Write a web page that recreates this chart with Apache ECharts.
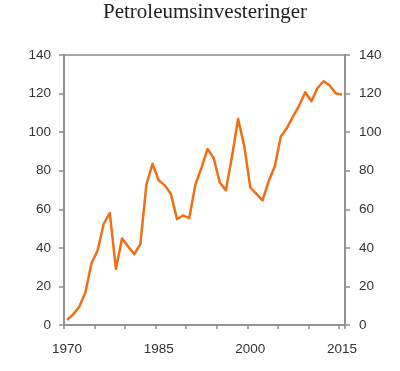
<!DOCTYPE html>
<html>
<head>
<meta charset="utf-8">
<style>
  html, body { margin: 0; padding: 0; background: #ffffff; }
  #chart { width: 400px; height: 371px; }
</style>
<script src="https://cdn.jsdelivr.net/npm/echarts@6/dist/echarts.min.js"></script>
</head>
<body>
<div id="chart"></div>
<script>
const titleText = 'Petroleumsinvesteringer';
const years = [
  '1970','1971','1972','1973','1974','1975','1976','1977','1978','1979',
  '1980','1981','1982','1983','1984','1985','1986','1987','1988','1989',
  '1990','1991','1992','1993','1994','1995','1996','1997','1998','1999',
  '2000','2001','2002','2003','2004','2005','2006','2007','2008','2009',
  '2010','2011','2012','2013','2014','2015'
];
const investments = [
  2.6, 5.5, 9.5, 16.8, 32, 38.6, 52.5, 58, 29.1, 44.8,
  40.7, 36.7, 41.9, 73.1, 83.6, 75, 72.4, 67.9, 54.9, 56.8,
  55.4, 72.7, 81.5, 91.3, 86.6, 73.9, 69.8, 87.4, 106.8, 93,
  71.3, 68, 64.6, 74.5, 82.2, 97.8, 102.2, 108.2, 113.8, 120.7,
  116, 122.9, 126.4, 124.2, 120, 119.5
];
const yMin = 0, yMax = 140, yStep = 20;

const axisGray = '#8c8c8c';
const labelColor = '#333333';
const labelFont = 'Liberation Sans';
const labelSize = 13.5;

const chart = echarts.init(document.getElementById('chart'), null, { renderer: 'canvas' });

function yAxisCfg(pos, margin) {
  return {
    type: 'value',
    position: pos,
    min: yMin, max: yMax, interval: yStep,
    axisLine: { show: true, lineStyle: { color: axisGray, width: 1.5 } },
    axisTick: { show: true, length: 5, inside: false, lineStyle: { color: axisGray, width: 1.5 } },
    splitLine: { show: false },
    axisLabel: { show: true, margin: margin, color: labelColor, fontSize: labelSize, fontFamily: labelFont }
  };
}

chart.setOption({
  animation: false,
  backgroundColor: '#ffffff',
  title: {
    text: titleText,
    left: 103, top: 2, padding: 0,
    textStyle: { fontFamily: 'Liberation Serif', fontWeight: 'normal', fontSize: 21, color: '#222222' }
  },
  grid: {
    left: 64, right: 55, top: 55, bottom: 46,
    show: true, borderColor: axisGray, borderWidth: 1.5, backgroundColor: 'transparent'
  },
  xAxis: {
    type: 'category',
    data: years,
    boundaryGap: true,
    axisLine: { show: true, lineStyle: { color: axisGray, width: 1.5 } },
    axisTick: { show: true, interval: 4, length: 4, alignWithLabel: false, lineStyle: { color: axisGray, width: 1.5 } },
    axisLabel: { show: true, interval: 14, margin: 17, color: labelColor, fontSize: labelSize, fontFamily: labelFont },
    splitLine: { show: false }
  },
  yAxis: [ yAxisCfg('left', 13), yAxisCfg('right', 14) ],
  series: [{
    type: 'line',
    data: investments,
    yAxisIndex: 0,
    showSymbol: false,
    symbol: 'none',
    lineStyle: { color: '#F06E14', width: 2.5, join: 'round' },
    itemStyle: { color: '#F06E14' }
  }]
});
</script>
</body>
</html>
